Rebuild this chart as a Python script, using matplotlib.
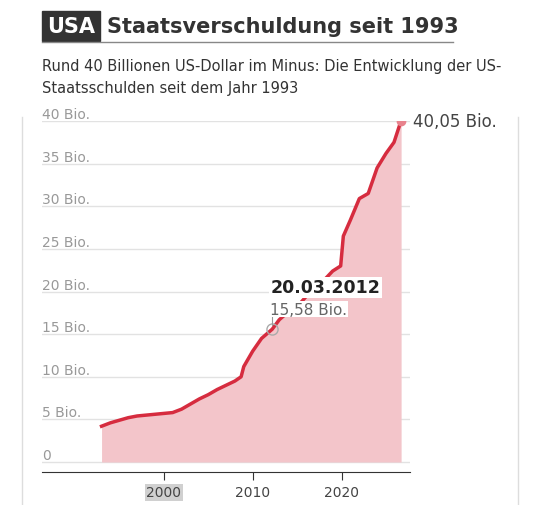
import matplotlib
matplotlib.use("Agg")
import matplotlib.pyplot as plt
from matplotlib.patches import Rectangle
from matplotlib.lines import Line2D

years = [1993.0,1994,1995,1996,1997,1998,1999,2000,2001,2002,2003,2004,2005,2006,2007,2008,2008.7,2009,2010,2011,2012.2,2013,2014,2015,2016,2017,2017.9,2018,2019,2019.9,2020.2,2021,2022,2023,2024,2025,2025.9,2026.7]
debt = [4.2,4.6,4.9,5.2,5.4,5.5,5.6,5.7,5.8,6.2,6.8,7.4,7.9,8.5,9.0,9.5,10.0,11.2,13.0,14.5,15.58,16.7,17.6,18.2,19.4,19.9,20.1,21.3,22.4,23.0,26.5,28.4,30.9,31.5,34.5,36.2,37.5,40.05]
yticks = [0,5,10,15,20,25,30,35,40]
ytick_labels = ["0","5 Bio.","10 Bio.","15 Bio.","20 Bio.","25 Bio.","30 Bio.","35 Bio.","40 Bio."]
xticks = [2000,2010,2020]

W, H = 540, 506
fig = plt.figure(figsize=(W/100, H/100), dpi=100)
red = "#d62c3f"; pink = "#f3c5ca"
ax = fig.add_axes([42/W, 1-473/H, (410-42)/W, (473-122)/H])
ax.set_xlim(1986.3, 2027.7)
ax.set_ylim(-1.17, 40)
ax.fill_between(years, debt, 0, color=pink, lw=0)
ax.plot(years, debt, color=red, lw=2.5, solid_joinstyle="round")
ax.plot([years[-1]], [debt[-1]], "o", color="#e8838d", ms=6)
for s in ax.spines.values(): s.set_visible(False)
ax.spines["bottom"].set_visible(True); ax.spines["bottom"].set_color("#333333")
ax.set_yticks(yticks)
ax.set_yticklabels(ytick_labels)
ax.tick_params(axis="y", length=0, labelsize=10, labelcolor="#999999", pad=0)
for lab in ax.get_yticklabels():
    lab.set_horizontalalignment("left"); lab.set_x(0)
    lab.set_verticalalignment("bottom")
ax.grid(axis="y", color="#e2e2e2", lw=1)
ax.set_axisbelow(True)
ax.set_xticks(xticks)
ax.set_xticklabels([str(x) for x in xticks])
ax.tick_params(axis="x", length=6, color="#333333", labelsize=10, labelcolor="#444444")
ax.get_xticklabels()[0].set_bbox(dict(facecolor="#d0d0d0", edgecolor="none", pad=1))
ax.text(years[-1]+1.3, debt[-1], "40,05 Bio.", fontsize=12, color="#444444", va="center")
# annotation
ax.plot([2012.2], [15.58], "o", ms=8, mfc="none", mec="#aaaaaa", mew=1)
ax.plot([2012.2, 2012.2], [16.1, 18.5], color="#999999", lw=0.8)
ax.text(2012.0, 19.9, "20.03.2012", fontsize=12.5, fontweight="bold", color="#222222",
        bbox=dict(facecolor="white", edgecolor="none", pad=1))
ax.text(2012.0, 17.4, "15,58 Bio.", fontsize=11, color="#666666",
        bbox=dict(facecolor="white", edgecolor="none", pad=0.5))

# title
fig.patches.append(Rectangle((42/W, 1-42/H), 58/W, 30/H, transform=fig.transFigure, color="#333333"))
fig.text(71/W, 1-27/H, "USA", color="white", fontsize=15, fontweight="bold", ha="center", va="center")
fig.text(107/W, 1-27/H, "Staatsverschuldung seit 1993", color="#333333", fontsize=15, fontweight="bold", va="center")
fig.lines.append(Line2D([42/W, 453/W], [1-43/H, 1-43/H], transform=fig.transFigure, color="#888888", lw=1))
fig.text(42/W, 1-66/H, "Rund 40 Billionen US-Dollar im Minus: Die Entwicklung der US-", fontsize=10.5, color="#333333", va="center")
fig.text(42/W, 1-88/H, "Staatsschulden seit dem Jahr 1993", fontsize=10.5, color="#333333", va="center")
for xx in (22, 518):
    fig.lines.append(Line2D([xx/W, xx/W], [0, 1-118/H], transform=fig.transFigure, color="#dddddd", lw=1))
fig.savefig("out.png", dpi=100)
